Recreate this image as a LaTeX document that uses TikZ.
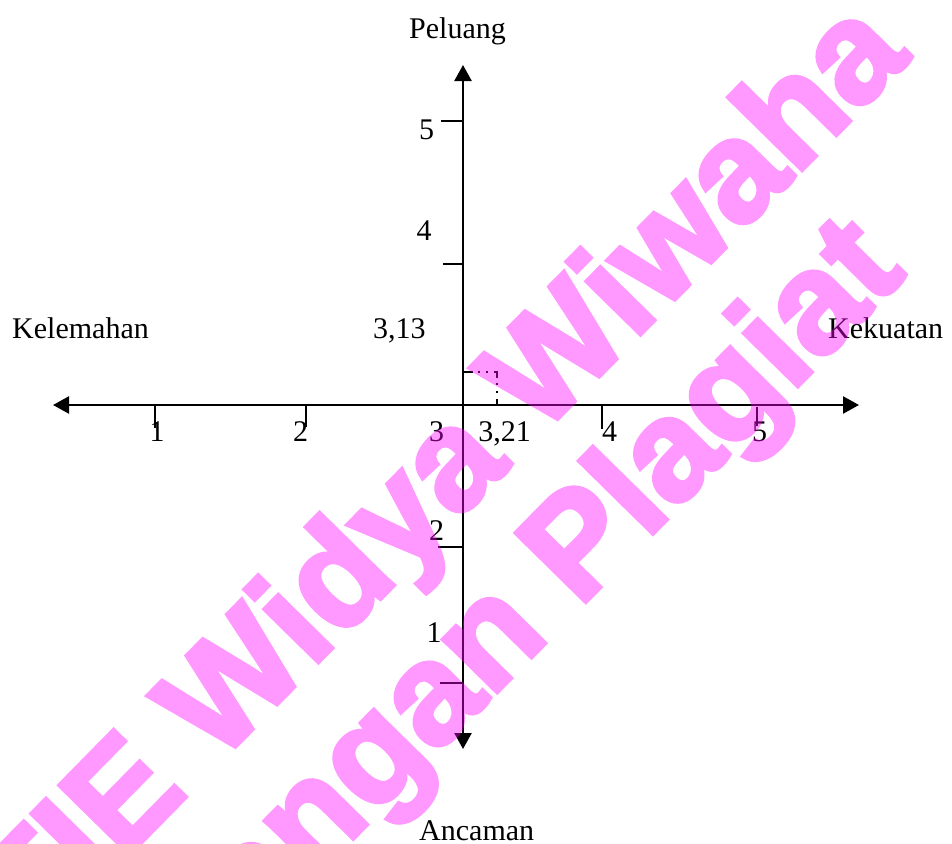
\documentclass[tikz,border=0pt]{standalone}
\usepackage{fontspec}
\setmainfont{Liberation Serif}
\newfontfamily\wmfont[FakeBold=3]{Liberation Sans Bold}
\usetikzlibrary{arrows.meta}
\definecolor{wmcol}{RGB}{255,0,255}
\begin{document}
\begin{tikzpicture}[x=1pt,y=-1pt,
  axisline/.style={line width=2.4pt,{Triangle[length=16pt,width=17pt]}-{Triangle[length=16pt,width=17pt]}},
  tickline/.style={line width=2pt},
  guide/.style={line width=2pt,dash pattern=on 9pt off 5pt on 2pt off 6pt on 2pt off 6pt},
  lbl/.style={inner sep=0pt,font=\fontsize{30}{30}\selectfont},
  wm/.style={inner sep=0pt,rotate=45.5,text=wmcol,font=\wmfont\fontsize{143}{143}\selectfont}]
\useasboundingbox (0,0) rectangle (952,843);
\fill[white] (0,0) rectangle (952,843);
% axes
\coordinate (L) at (53,405);
\coordinate (R) at (859,405);
\coordinate (T) at (463,65);
\coordinate (B) at (463,749);
\draw[axisline] (L) -- (R);
\draw[axisline] (B) -- (T);
% x ticks
\coordinate (x1) at (155,405); \coordinate (x1e) at (155,428);
\coordinate (x2) at (306,405); \coordinate (x2e) at (306,427);
\coordinate (x4) at (602,405); \coordinate (x4e) at (602,429);
\coordinate (x5) at (757,407); \coordinate (x5e) at (757,426);
\draw[tickline] (x1) -- (x1e);
\draw[tickline] (x2) -- (x2e);
\draw[tickline] (x4) -- (x4e);
\draw[tickline] (x5) -- (x5e);
% y ticks
\coordinate (y5) at (463,121); \coordinate (y5e) at (441,121);
\coordinate (y4) at (463,264); \coordinate (y4e) at (443,264);
\coordinate (y2) at (463,547); \coordinate (y2e) at (438,547);
\coordinate (y1) at (463,683); \coordinate (y1e) at (440,683);
\draw[tickline] (y5) -- (y5e);
\draw[tickline] (y4) -- (y4e);
\draw[tickline] (y2) -- (y2e);
\draw[tickline] (y1) -- (y1e);
% guide lines
\coordinate (g0) at (464,372);
\coordinate (g1) at (497,372);
\coordinate (g2) at (497,405);
\draw[guide] (g0) -- (g1) -- (g2);
% axis labels
\node[lbl,anchor=base west] (peluang) at (409,39) {Peluang};
\node[lbl,anchor=base west] (ancaman) at (419,840) {Ancaman};
\node[lbl,anchor=base west] (kelemahan) at (12,338) {Kelemahan};
\node[lbl,anchor=base west] (kekuatan) at (828,338) {Kekuatan};
\node[lbl,anchor=base west] (v313) at (373,338) {3,13};
% x labels
\node[lbl,anchor=base] (lx1) at (157,441) {1};
\node[lbl,anchor=base] (lx2) at (300.5,441) {2};
\node[lbl,anchor=base] (lx3) at (436.5,441) {3};
\node[lbl,anchor=base] (lx321) at (504.5,441) {3,21};
\node[lbl,anchor=base] (lx4) at (609.5,441) {4};
\node[lbl,anchor=base] (lx5) at (759.5,441) {5};
% y labels
\node[lbl,anchor=base] (ly5) at (426.5,139) {5};
\node[lbl,anchor=base] (ly4) at (424,240) {4};
\node[lbl,anchor=base] (ly2) at (436.5,540) {2};
\node[lbl,anchor=base] (ly1) at (434,642) {1};
% watermark
\begin{scope}[transparency group,opacity=0.4]
\node[wm,anchor=base east] (wm1) at (912,58) {STIE Widya Wiwaha};
\node[wm,anchor=base east] (wm2) at (908,274) {Jangan Plagiat};
\end{scope}
\end{tikzpicture}
\end{document}
